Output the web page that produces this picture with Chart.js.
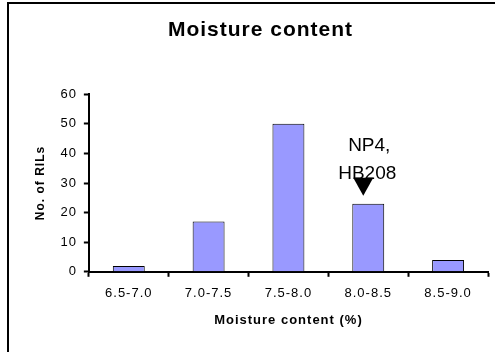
<!DOCTYPE html>
<html>
<head>
<meta charset="utf-8">
<script src="https://cdn.jsdelivr.net/npm/chart.js@4/dist/chart.umd.min.js"></script>
<style>
  html, body { margin: 0; padding: 0; background: #fff; }
  #wrap { width: 495px; height: 352px; position: relative; }
</style>
</head>
<body>
<div id="wrap"><canvas id="c" width="495" height="352"></canvas></div>
<script>
// Moisture content classes (%) and number of RILs in each class
const categories = ['6.5-7.0', '7.0-7.5', '7.5-8.0', '8.0-8.5', '8.5-9.0'];
const rilCounts = [2, 17, 50, 23, 4];
const yTicks = [0, 10, 20, 30, 40, 50, 60];

// Callout marking the class that holds the parents
const calloutLines = ['NP4,', 'HB208'];
const calloutCategory = '8.0-8.5';

const FONT = "'Liberation Sans', Arial, Helvetica, sans-serif";

// Slight tracking on all chart text
const spacingPlugin = {
  id: 'spacing',
  beforeUpdate(chart) { chart.ctx.letterSpacing = '1px'; },
  beforeDraw(chart) { chart.ctx.letterSpacing = '1px'; }
};

// Frame around the whole chart
const framePlugin = {
  id: 'frame',
  afterDraw(chart) {
    const ctx = chart.ctx;
    ctx.save();
    ctx.strokeStyle = '#000';
    ctx.lineWidth = 2;
    ctx.strokeRect(8, 3, chart.width + 20, chart.height + 20);
    ctx.restore();
  }
};

// Text label with a downward arrow above one bar
const calloutPlugin = {
  id: 'callout',
  afterDatasetsDraw(chart) {
    const x = chart.scales.x;
    const y = chart.scales.y;
    const idx = categories.indexOf(calloutCategory);
    const cx = x.getPixelForValue(idx);
    const top = y.getPixelForValue(rilCounts[idx]);
    const ctx = chart.ctx;
    ctx.save();
    ctx.letterSpacing = '0px';
    ctx.fillStyle = '#000';
    ctx.font = '19px ' + FONT;
    ctx.textAlign = 'center';
    ctx.textBaseline = 'middle';
    ctx.fillText(calloutLines[0], cx + 1, top - 58);
    ctx.fillText(calloutLines[1], cx - 1, top - 30);
    // arrow head
    const tipX = cx - 5, tipY = top - 8;
    ctx.beginPath();
    ctx.moveTo(tipX - 10, top - 26);
    ctx.lineTo(tipX + 10, top - 26);
    ctx.lineTo(tipX, tipY);
    ctx.closePath();
    ctx.fill();
    ctx.restore();
  }
};

new Chart(document.getElementById('c'), {
  type: 'bar',
  data: {
    labels: categories,
    datasets: [{
      data: rilCounts,
      backgroundColor: '#9999FF',
      borderColor: '#000',
      borderWidth: 1,
      borderSkipped: 'bottom',
      barPercentage: 0.4,
      categoryPercentage: 1.0
    }]
  },
  options: {
    responsive: false,
    animation: false,
    events: [],
    layout: { padding: { left: 33, right: 7, top: 0, bottom: 12 } },
    plugins: {
      legend: { display: false },
      tooltip: { enabled: false },
      title: {
        display: true,
        text: 'Moisture content',
        color: '#000',
        font: { family: FONT, size: 21, weight: 'bold' },
        padding: { top: 18, bottom: 51 }
      }
    },
    scales: {
      x: {
        grid: {
          display: true,
          drawOnChartArea: false,
          drawTicks: true,
          tickLength: 5,
          tickWidth: 2,
          color: '#000',
          offset: true
        },
        border: { display: true, color: '#000', width: 2 },
        ticks: {
          color: '#000',
          font: { family: FONT, size: 13 },
          padding: 9,
          maxRotation: 0
        },
        title: {
          display: true,
          text: 'Moisture content (%)',
          color: '#000',
          font: { family: FONT, size: 13, weight: 'bold' },
          padding: { top: 2, bottom: 12 }
        }
      },
      y: {
        min: 0,
        max: 60,
        afterBuildTicks(scale) { scale.ticks = yTicks.map(v => ({ value: v })); },
        grid: {
          display: true,
          drawOnChartArea: false,
          drawTicks: true,
          tickLength: 5,
          tickWidth: 2,
          color: '#000'
        },
        border: { display: true, color: '#000', width: 2 },
        ticks: {
          color: '#000',
          font: { family: FONT, size: 13 },
          padding: 7
        },
        title: {
          display: true,
          text: 'No. of RILs',
          color: '#000',
          font: { family: FONT, size: 12, weight: 'bold' },
          padding: { top: 0, bottom: 6 }
        }
      }
    }
  },
  plugins: [spacingPlugin, framePlugin, calloutPlugin]
});
</script>
</body>
</html>
